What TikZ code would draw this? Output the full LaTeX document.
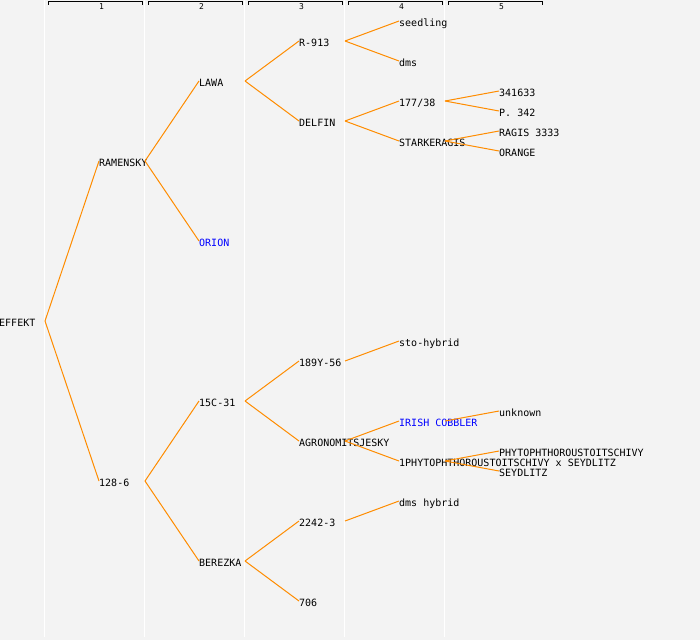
\documentclass[tikz,border=0pt]{standalone}
\usepackage{fontspec}
\setmonofont{DejaVu Sans Mono}
\usepackage{tikz}
\usetikzlibrary{calc}
\definecolor{bg}{HTML}{F3F3F3}
\definecolor{branch}{HTML}{FF8C00}
\tikzset{
    pnode/.style={anchor=west,inner sep=0pt,text height=10pt,text depth=0pt,
        font=\ttfamily\fontsize{10}{10}\selectfont},
    bluenode/.style={pnode,text=blue},
    colsep/.style={draw=white,line width=1.2pt},
    bracket/.style={draw=black,line width=1pt},
    colnum/.style={inner sep=0pt,font=\ttfamily\fontsize{8}{8}\selectfont},
    tree/.style={
        every edge/.style={draw=branch,line width=1pt},
    }
}
\begin{document}
\begin{tikzpicture}[x=1pt,y=-1pt,tree]
\def\off{46}
\useasboundingbox (0,0) rectangle (700,640);
\fill[bg] (0,0) rectangle (700,640);
% columns and header
\foreach \k in {1,...,5} {
  \draw[colsep] ({44.5+100*(\k-1)},0) -- ({44.5+100*(\k-1)},637);
  \draw[bracket] ({48+100*(\k-1)},4.5) -- ({48+100*(\k-1)},1.5)
     -- ({142+100*(\k-1)},1.5) -- ({142+100*(\k-1)},4.5);
  \node[colnum] (num\k) at ({101.5+100*(\k-1)},6.5) {\k};
}
% level 0 - 2
\node[pnode] (effekt)   at (-1,321)  {EFFEKT};
\node[pnode] (ramensky) at (99,161)  {RAMENSKY};
\node[pnode] (r128)     at (99,481)  {128-6};
\node[pnode] (lawa)     at (199,81)  {LAWA};
\node[bluenode] (orion) at (199,241) {ORION};
\node[pnode] (c15)      at (199,401) {15C-31};
\node[pnode] (berezka)  at (199,561) {BEREZKA};
% level 3
\node[pnode] (r913)     at (299,41)  {R-913};
\node[pnode] (delfin)   at (299,121) {DELFIN};
\node[pnode] (y189)     at (299,361) {189Y-56};
\node[pnode] (agro)     at (299,441) {AGRONOMITSJESKY};
\node[pnode] (b2242)    at (299,521) {2242-3};
\node[pnode] (n706)     at (299,601) {706};
% level 4
\node[pnode] (seedling) at (399,21)  {seedling};
\node[pnode] (dms)      at (399,61)  {dms};
\node[pnode] (s177)     at (399,101) {177/38};
\node[pnode] (starke)   at (399,141) {STARKERAGIS};
\node[pnode] (sto)      at (399,341) {sto-hybrid};
\node[bluenode] (irish) at (399,421) {IRISH COBBLER};
\node[pnode] (phyto1)   at (399,461) {1PHYTOPHTHOROUSTOITSCHIVY x SEYDLITZ};
\node[pnode] (dmsh)     at (399,501) {dms hybrid};
% level 5
\node[pnode] (n341633)  at (499,91)  {341633};
\node[pnode] (p342)     at (499,111) {P. 342};
\node[pnode] (ragis)    at (499,131) {RAGIS 3333};
\node[pnode] (orange)   at (499,151) {ORANGE};
\node[pnode] (unknown)  at (499,411) {unknown};
\node[pnode] (phyto)    at (499,451) {PHYTOPHTHOROUSTOITSCHIVY};
\node[pnode] (seydlitz) at (499,471) {SEYDLITZ};
\path
([xshift=\off]effekt.west)   edge (ramensky.west)
([xshift=\off]effekt.west)   edge (r128.west)
([xshift=\off]ramensky.west) edge (lawa.west)
([xshift=\off]ramensky.west) edge (orion.west)
([xshift=\off]r128.west)     edge (c15.west)
([xshift=\off]r128.west)     edge (berezka.west)
([xshift=\off]lawa.west)     edge (r913.west)
([xshift=\off]lawa.west)     edge (delfin.west)
([xshift=\off]c15.west)      edge (y189.west)
([xshift=\off]c15.west)      edge (agro.west)
([xshift=\off]berezka.west)  edge (b2242.west)
([xshift=\off]berezka.west)  edge (n706.west)
([xshift=\off]r913.west)     edge (seedling.west)
([xshift=\off]r913.west)     edge (dms.west)
([xshift=\off]delfin.west)   edge (s177.west)
([xshift=\off]delfin.west)   edge (starke.west)
([xshift=\off]y189.west)     edge (sto.west)
([xshift=\off]agro.west)     edge (irish.west)
([xshift=\off]agro.west)     edge (phyto1.west)
([xshift=\off]b2242.west)    edge (dmsh.west)
([xshift=\off]s177.west)     edge (n341633.west)
([xshift=\off]s177.west)     edge (p342.west)
([xshift=\off]starke.west)   edge (ragis.west)
([xshift=\off]starke.west)   edge (orange.west)
([xshift=\off]irish.west)    edge (unknown.west)
([xshift=\off]phyto1.west)   edge (phyto.west)
([xshift=\off]phyto1.west)   edge (seydlitz.west)
;
\end{tikzpicture}
\end{document}
